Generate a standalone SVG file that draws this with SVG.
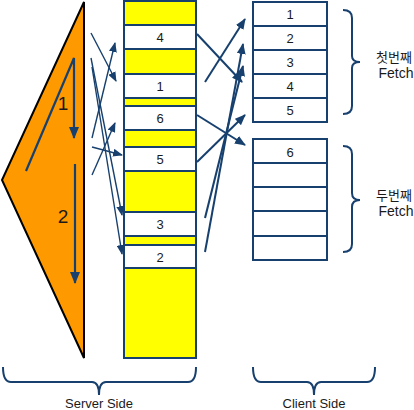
<svg xmlns="http://www.w3.org/2000/svg" width="414" height="410" viewBox="0 0 414 410">
<style>
.t{font-family:"Liberation Sans",Arial,sans-serif;fill:#1a1a1a;text-anchor:middle}
.k{font-family:"Liberation Sans","Noto Sans CJK KR",sans-serif;fill:#1a1a1a;text-anchor:middle}
.bx{fill:#fff;stroke:#17406E;stroke-width:2}
.c1{stroke:#17406E;stroke-width:1.4;fill:none;marker-end:url(#ah)}
.c2{stroke:#17406E;stroke-width:2;fill:none;marker-end:url(#ah2)}
.br{stroke:#17406E;stroke-width:2;fill:none}
</style>
<defs>
<marker id="ah" viewBox="0 0 10 8" refX="9" refY="4" markerWidth="10" markerHeight="8" orient="auto" markerUnits="userSpaceOnUse"><path d="M0,0 L10,4 L0,8 z" fill="#17406E"/></marker>
<marker id="ah2" viewBox="0 0 11 9" refX="10" refY="4.5" markerWidth="11" markerHeight="9" orient="auto" markerUnits="userSpaceOnUse"><path d="M0,0 L11,4.5 L0,9 z" fill="#17406E"/></marker>
<marker id="ahb" viewBox="0 0 12 10" refX="11" refY="5" markerWidth="12" markerHeight="10" orient="auto" markerUnits="userSpaceOnUse"><path d="M0,0 L12,5 L0,10 z" fill="#17406E"/></marker>
</defs>
<g id="server-triangle">
<polygon points="84,2 2,180 84,358" fill="#FF9900" stroke="#000" stroke-width="2" stroke-linejoin="miter"/>
<path d="M26,171 L74,58 L74,138" stroke="#17406E" stroke-width="2.2" fill="none" marker-end="url(#ahb)"/>
<path d="M75,164 L75,283" stroke="#17406E" stroke-width="2.2" fill="none" marker-end="url(#ahb)"/>
<text class="t" x="63" y="110" font-size="19" fill="#000">1</text>
<text class="t" x="63" y="223" font-size="19" fill="#000">2</text>
</g>
<g id="server-column">
<rect x="124" y="1" width="72" height="357" fill="#FFFF00" stroke="#17406E" stroke-width="2"/>
</g>
<g id="s4"><rect class="bx" x="124" y="25" width="72" height="24"/><text class="t" x="160" y="42" font-size="13">4</text></g>
<g id="s1"><rect class="bx" x="124" y="74" width="72" height="24"/><text class="t" x="160" y="91" font-size="13">1</text></g>
<g id="s6"><rect class="bx" x="124" y="106" width="72" height="24"/><text class="t" x="160" y="123" font-size="13">6</text></g>
<g id="s5"><rect class="bx" x="124" y="147" width="72" height="24"/><text class="t" x="160" y="164" font-size="13">5</text></g>
<g id="s3"><rect class="bx" x="124" y="212" width="72" height="24"/><text class="t" x="160" y="229" font-size="13">3</text></g>
<g id="s2"><rect class="bx" x="124" y="245" width="72" height="23"/><text class="t" x="160" y="262" font-size="13">2</text></g>
<g id="client-fetch1">
<rect class="bx" x="253" y="2" width="74" height="24"/><text class="t" x="290" y="19" font-size="13">1</text>
<rect class="bx" x="253" y="26" width="74" height="24"/><text class="t" x="290" y="43" font-size="13">2</text>
<rect class="bx" x="253" y="50" width="74" height="24"/><text class="t" x="290" y="67" font-size="13">3</text>
<rect class="bx" x="253" y="74" width="74" height="24"/><text class="t" x="290" y="91" font-size="13">4</text>
<rect class="bx" x="253" y="98" width="74" height="24"/><text class="t" x="290" y="115" font-size="13">5</text>
</g>
<g id="client-fetch2">
<rect class="bx" x="253" y="139" width="74" height="24"/><text class="t" x="290" y="157" font-size="13">6</text>
<rect class="bx" x="253" y="163" width="74" height="24"/>
<rect class="bx" x="253" y="187" width="74" height="24"/>
<rect class="bx" x="253" y="211" width="74" height="25"/>
<rect class="bx" x="253" y="236" width="74" height="24"/>
</g>
<g id="braces">
<path class="br" d="M343,10 Q352,10 352,18 L352,56 Q352,62 360,62 Q352,62 352,68 L352,106 Q352,114 343,114"/>
<path class="br" d="M343,146 Q352,146 352,154 L352,193 Q352,200 360,200 Q352,200 352,207 L352,244 Q352,252 343,252"/>
<path class="br" d="M3,367 Q3,382 11,382 L92,382 Q99,382 99,395 Q99,382 106,382 L188,382 Q196,382 196,367"/>
<path class="br" d="M253,367 Q253,382 261,382 L307,382 Q314,382 314,395 Q314,382 321,382 L367,382 Q375,382 375,367"/>
</g>
<g id="labels">
<text class="k" x="394" y="62" font-size="13">첫번째</text>
<text class="t" x="396" y="78" font-size="14">Fetch</text>
<text class="k" x="394" y="200" font-size="13">두번째</text>
<text class="t" x="396" y="216" font-size="14">Fetch</text>
<text class="t" x="99" y="408" font-size="13">Server Side</text>
<text class="t" x="314" y="408" font-size="13">Client Side</text>
</g>
<g id="connectors">
<line class="c1" x1="91" y1="33" x2="116" y2="81"/>
<line class="c1" x1="92" y1="138" x2="115" y2="43"/>
<line class="c1" x1="92" y1="147" x2="122" y2="155"/>
<line class="c1" x1="92" y1="175" x2="115" y2="123"/>
<line class="c1" x1="91" y1="58" x2="122" y2="215"/>
<line class="c1" x1="92" y1="67" x2="122" y2="254"/>
<line class="c2" x1="197" y1="34" x2="242" y2="82"/>
<line class="c2" x1="205" y1="82" x2="245" y2="19"/>
<line class="c2" x1="205" y1="218" x2="243" y2="66"/>
<line class="c2" x1="205" y1="252" x2="243" y2="44"/>
<line class="c2" x1="197" y1="115" x2="245" y2="145"/>
<line class="c2" x1="197" y1="162" x2="245" y2="115"/>
</g>
</svg>
